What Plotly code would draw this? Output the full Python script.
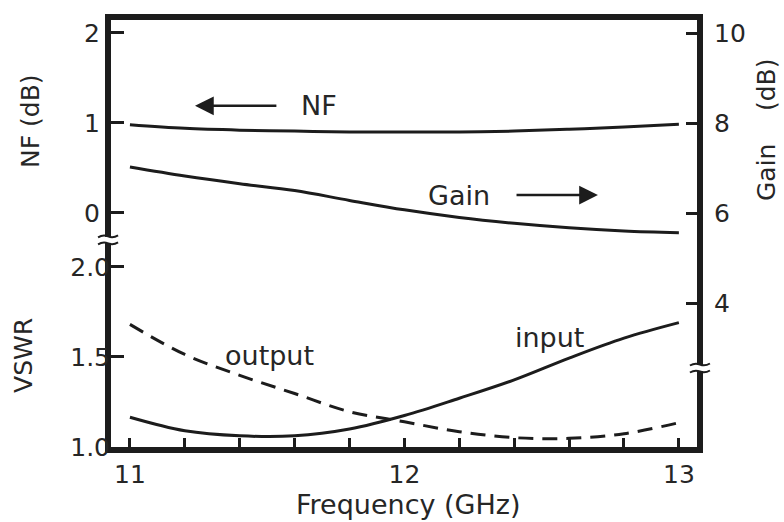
import plotly.graph_objects as go

# ---- data ----
freq = [11.0, 11.2, 11.4, 11.6, 11.8, 12.0, 12.2, 12.4, 12.6, 12.8, 13.0]
nf_db = [0.98, 0.94, 0.92, 0.91, 0.90, 0.90, 0.90, 0.91, 0.93, 0.955, 0.985]
gain_db = [7.02, 6.82, 6.65, 6.50, 6.28, 6.07, 5.90, 5.77, 5.67, 5.60, 5.56]
vswr_input = [1.165, 1.09, 1.062, 1.062, 1.10, 1.175, 1.271, 1.373, 1.494, 1.605, 1.691]
vswr_output = [1.681, 1.514, 1.398, 1.297, 1.196, 1.14, 1.085, 1.052, 1.048, 1.074, 1.135]

x_ticks = [11, 12, 13]
nf_ticks = [0, 1, 2]
vswr_ticks = [1.0, 1.5, 2.0]
vswr_ticktext = ["1.0", "1.5", "2.0"]
gain_ticks = [4, 6, 8, 10]

INK = "#1c1c1c"
TXT = "#262626"
FONT = "DejaVu Sans"

fig = go.Figure()
line = dict(color=INK, width=3, shape="spline")
fig.add_trace(go.Scatter(x=freq, y=nf_db, mode="lines", line=line, yaxis="y", showlegend=False))
fig.add_trace(go.Scatter(x=freq, y=gain_db, mode="lines", line=line, yaxis="y3", showlegend=False))
fig.add_trace(go.Scatter(x=freq, y=vswr_input, mode="lines", line=line, yaxis="y2", showlegend=False))
fig.add_trace(go.Scatter(x=freq, y=vswr_output, mode="lines",
                         line=dict(color=INK, width=3, shape="spline", dash="15px,9px"),
                         yaxis="y2", showlegend=False))

tickfont = dict(family=FONT, size=25, color=TXT)

fig.update_layout(
    width=784, height=522,
    margin=dict(l=111, r=87, t=20, b=75),
    paper_bgcolor="white", plot_bgcolor="white",
    xaxis=dict(range=[10.931, 13.066], tickvals=x_ticks, ticks="inside", ticklen=9, tickwidth=3,
               tickcolor=INK, showline=True, linewidth=6, linecolor=INK, mirror=True,
               showgrid=False, zeroline=False, tickfont=tickfont,
               minor=dict(dtick=0.2, tick0=11, ticks="inside", ticklen=9, tickwidth=3, tickcolor=INK)),
    yaxis=dict(range=[-2.6, 2.144], tickvals=nf_ticks, ticks="inside", ticklen=13, tickwidth=3,
               tickcolor=INK, showline=True, linewidth=6, linecolor=INK, showgrid=False,
               zeroline=False, tickfont=tickfont, side="left"),
    yaxis2=dict(range=[1.0, 3.372], tickvals=vswr_ticks, ticktext=vswr_ticktext, overlaying="y",
                side="left", ticks="inside", ticklen=13, tickwidth=3, tickcolor=INK,
                showline=False, showgrid=False, zeroline=False, tickfont=tickfont),
    yaxis3=dict(range=[0.8, 10.289], tickvals=gain_ticks, overlaying="y", side="right",
                ticks="inside", ticklen=11, tickwidth=3, tickcolor=INK, showline=True,
                linewidth=6, linecolor=INK, showgrid=False, zeroline=False, tickfont=tickfont,
                ticklabelstandoff=6),
)

lab = dict(family=FONT, size=25, color=TXT)
inlab = dict(family=FONT, size=27, color=TXT)
C = dict(xanchor="center", yanchor="middle", showarrow=False)
annots = [
    # axis titles
    dict(text="NF (dB)", xref="paper", yref="paper", x=-0.1365, y=0.7635, textangle=-90, font=lab, **C),
    dict(text="VSWR", xref="paper", yref="paper", x=-0.1485, y=0.2155, textangle=-90, font=lab, **C),
    dict(text="Gain", xref="paper", yref="paper", x=1.1195, y=0.6417, textangle=-90, font=lab, **C),
    dict(text="(dB)", xref="paper", yref="paper", x=1.1195, y=0.8478, textangle=-90, font=lab, **C),
    dict(text="Frequency (GHz)", xref="paper", yref="paper", x=0.507, y=-0.1335,
         font=dict(family=FONT, size=27, color=TXT), **C),
    # in-plot labels
    dict(text="NF", x=11.69, y=1.19, xref="x", yref="y", font=inlab, **C),
    dict(text="", x=11.237, y=1.19, xref="x", yref="y", ax=11.539, ay=1.19, axref="x", ayref="y",
         showarrow=True, arrowhead=2, arrowsize=1.5, arrowwidth=2.5, arrowcolor=INK),
    dict(text="Gain", x=12.2, y=6.4, xref="x", yref="y3", font=inlab, **C),
    dict(text="", x=12.705, y=6.4, xref="x", yref="y3", ax=12.403, ay=6.4, axref="x", ayref="y3",
         showarrow=True, arrowhead=2, arrowsize=1.5, arrowwidth=2.5, arrowcolor=INK),
    dict(text="output", x=11.51, y=1.511, xref="x", yref="y2", font=inlab, **C),
    dict(text="input", x=12.53, y=1.606, xref="x", yref="y2", font=inlab, **C),
]

# axis break marks (white gap + two small wavy strokes)
shapes = []
for bx, by in [(-0.005, 0.485), (1.005, 0.185)]:
    shapes.append(dict(type="rect", xref="paper", yref="paper", xsizemode="pixel", ysizemode="pixel",
                       xanchor=bx, yanchor=by, x0=-6, x1=6, y0=-3, y1=3,
                       fillcolor="white", line=dict(width=0), layer="above"))
    for dy in (-3.5, 3.5):
        shapes.append(dict(type="path", xref="paper", yref="paper", xsizemode="pixel",
                           ysizemode="pixel", xanchor=bx, yanchor=by,
                           path=f"M -10,{dy - 1} Q -5,{dy + 2} 0,{dy} T 10,{dy + 1}",
                           line=dict(color=INK, width=2), layer="above"))

fig.update_layout(annotations=annots, shapes=shapes)

fig.write_html("out.html")
